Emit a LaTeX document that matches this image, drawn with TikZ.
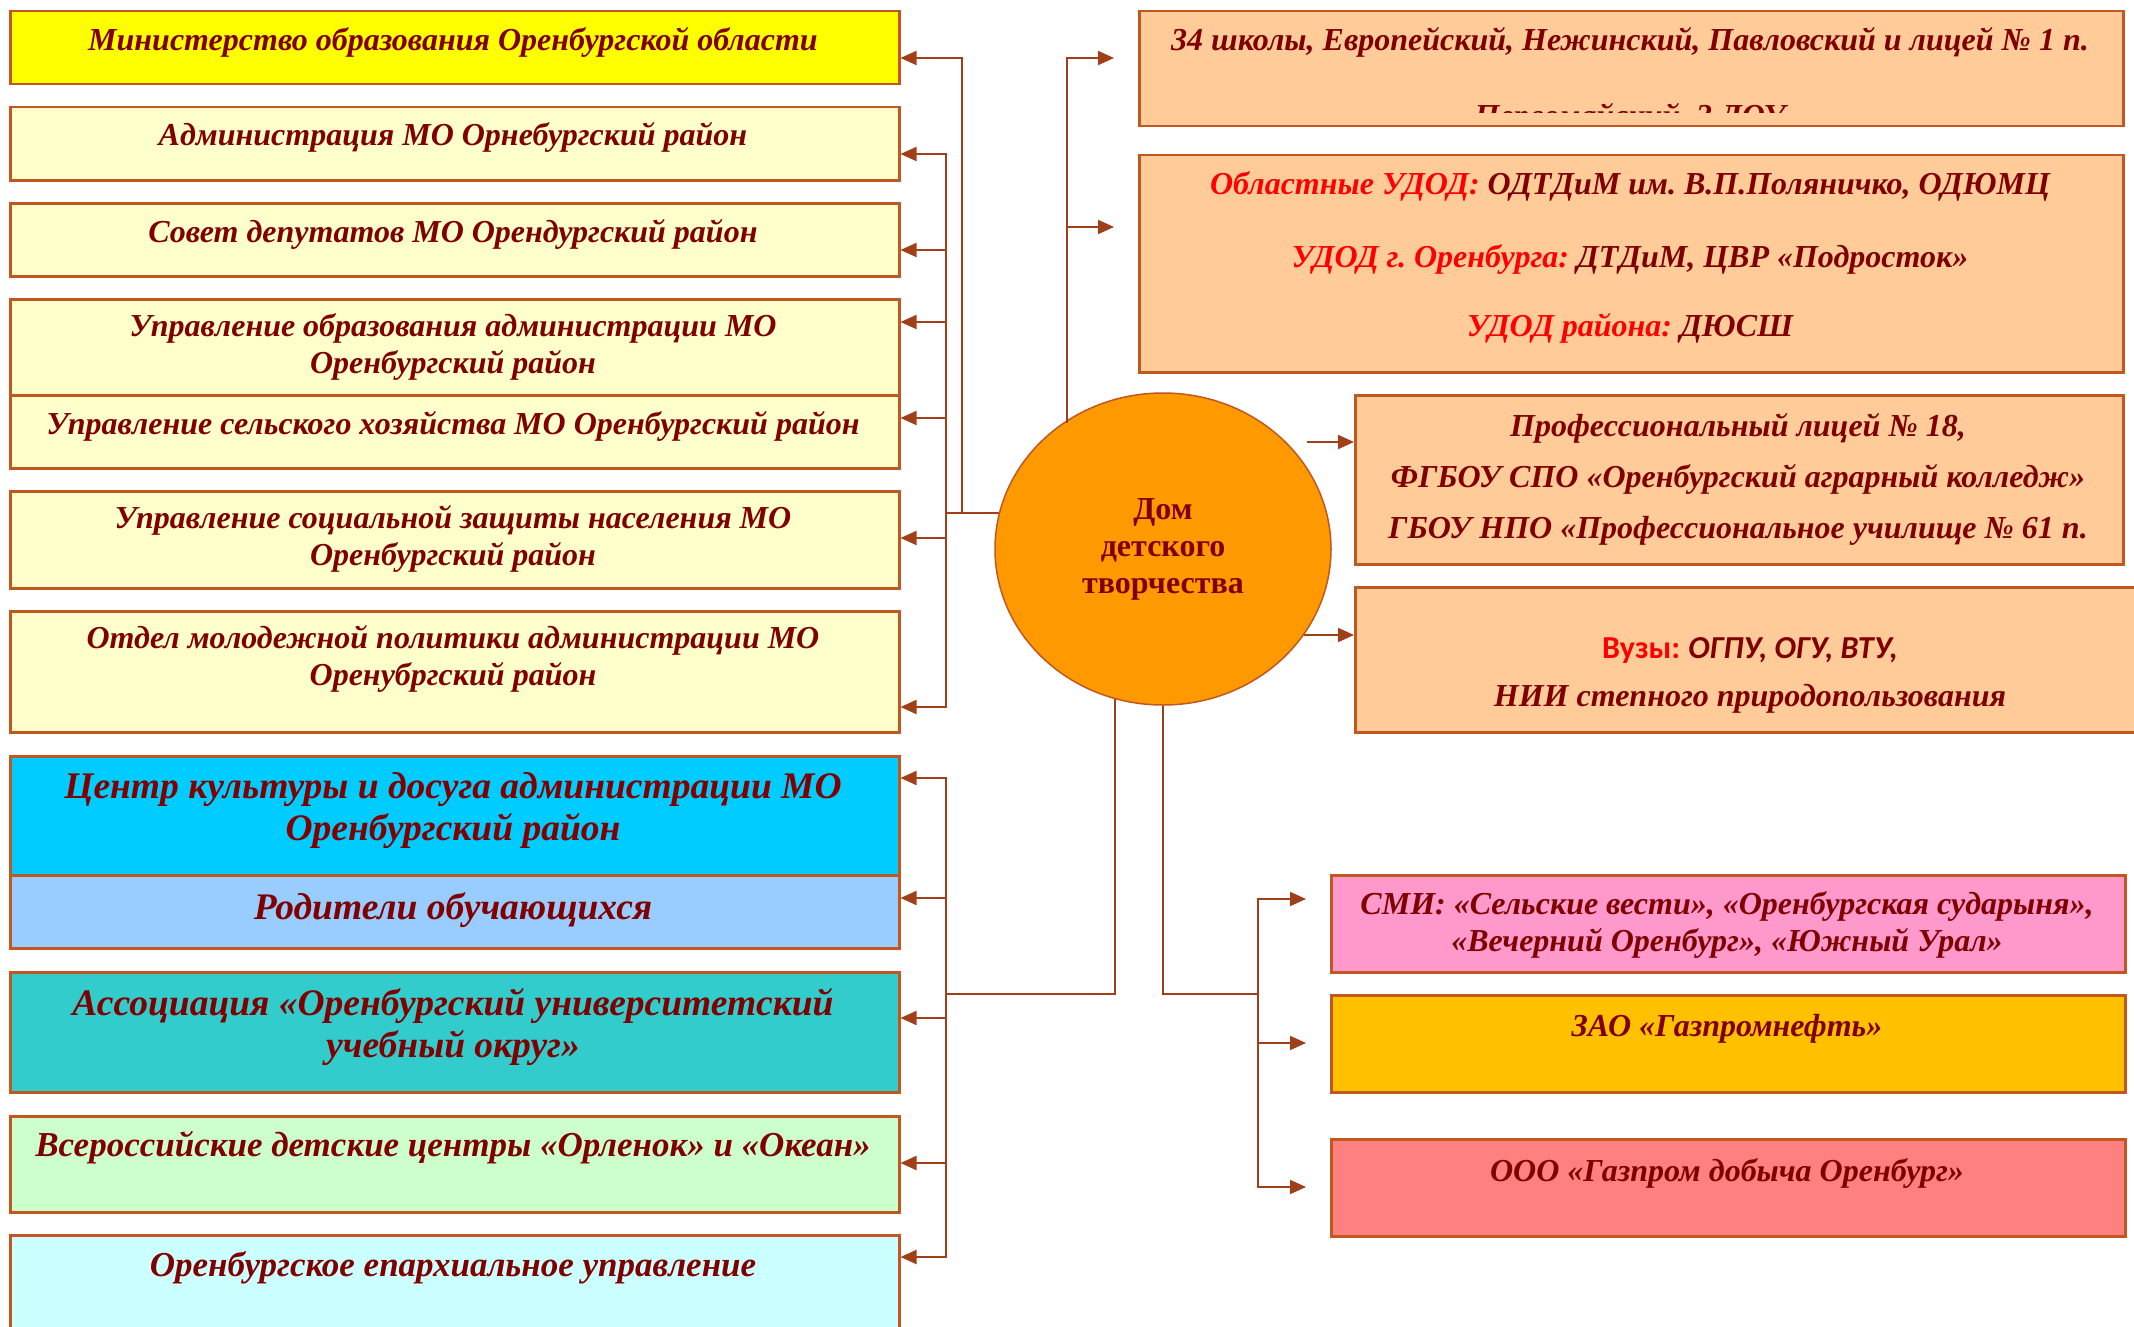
\documentclass[tikz,border=0pt]{standalone}
\usepackage{fontspec}
\setmainfont{Liberation Serif}
\newfontfamily\calfont{Carlito}
\usetikzlibrary{shapes.geometric,arrows.meta,backgrounds}
\frenchspacing
\definecolor{tc}{RGB}{128,0,0}
\definecolor{redt}{RGB}{255,0,0}
\definecolor{bordc}{RGB}{192,88,32}
\definecolor{linec}{RGB}{160,64,24}
\definecolor{cyellow}{RGB}{255,255,0}
\definecolor{clight}{RGB}{255,255,204}
\definecolor{ccyan}{RGB}{0,204,255}
\definecolor{cblue}{RGB}{153,204,255}
\definecolor{cteal}{RGB}{51,204,204}
\definecolor{cgreen}{RGB}{204,255,204}
\definecolor{clcyan}{RGB}{204,255,255}
\definecolor{cpeach}{RGB}{255,204,153}
\definecolor{cpink}{RGB}{255,153,204}
\definecolor{cgold}{RGB}{255,192,0}
\definecolor{csalmon}{RGB}{255,128,128}
\definecolor{corange}{RGB}{255,153,0}
\begin{document}
\begin{tikzpicture}[x=1pt,y=-1pt,
  box/.style={draw=bordc, line width=2.5pt, rectangle, inner sep=0pt, anchor=north west},
  txt/.style={font=\fontsize{32}{37}\selectfont\bfseries\itshape, text=tc, align=center, inner sep=0pt},
  midtxt/.style={font=\fontsize{35}{40}\selectfont\bfseries\itshape, text=tc, align=center, inner sep=0pt},
  bigtxt/.style={font=\fontsize{37.5}{42}\selectfont\bfseries\itshape, text=tc, align=center, inner sep=0pt},
  conn/.style={draw=linec, line width=2pt},
  arr/.style={conn, -{Triangle[length=16pt,width=14pt]}}]
\useasboundingbox (0,0) rectangle (2134,1327);
\clip (0,0) rectangle (2134,1327);

% left boxes
\node[box, fill=cyellow, minimum width=889pt, minimum height=73pt] (b1) at (9,10) {};
\node[box, fill=clight, minimum width=889pt, minimum height=73pt] (b2) at (9,106) {};
\node[box, fill=clight, minimum width=889pt, minimum height=73pt] (b3) at (9,202) {};
\node[box, fill=clight, minimum width=889pt, minimum height=96pt] (b4) at (9,298) {};
\node[box, fill=clight, minimum width=889pt, minimum height=73pt] (b5) at (9,394) {};
\node[box, fill=clight, minimum width=889pt, minimum height=97pt] (b6) at (9,490) {};
\node[box, fill=clight, minimum width=889pt, minimum height=121pt] (b7) at (9,610) {};
\node[box, fill=ccyan, minimum width=889pt, minimum height=119pt] (b8) at (9,755) {};
\node[box, fill=cblue, minimum width=889pt, minimum height=73pt] (b9) at (9,874) {};
\node[box, fill=cteal, minimum width=889pt, minimum height=120pt] (b10) at (9,971) {};
\node[box, fill=cgreen, minimum width=889pt, minimum height=96pt] (b11) at (9,1115) {};
\node[box, fill=clcyan, minimum width=889pt, minimum height=120pt] (b12) at (9,1234) {};

\node[txt] (t1) at (453,42) {Министерство образования Оренбургской области};
\node[txt] (t2) at (453,137) {Администрация МО Орнебургский район};
\node[txt] (t3) at (453,234) {Совет депутатов МО Орендургский район};
\node[txt] (t4) at (453,347) {Управление образования администрации МО\\Оренбургский район};
\node[txt] (t5) at (453,426) {Управление сельского хозяйства МО Оренбургский район};
\node[txt] (t6) at (453,539) {Управление социальной защиты населения МО\\Оренбургский район};
\node[txt] (t7) at (453,659) {Отдел молодежной политики администрации МО\\Оренубргский район};
\node[bigtxt] (t8) at (453,811) {Центр культуры и досуга администрации МО\\Оренбургский район};
\node[bigtxt] (t9) at (453,910) {Родители обучающихся};
\node[bigtxt] (t10) at (453,1027) {Ассоциация «Оренбургский университетский\\учебный округ»};
\node[midtxt] (t11) at (453,1148) {Всероссийские детские центры «Орленок» и «Океан»};
\node[midtxt] (t12) at (453,1268) {Оренбургское епархиальное управление};

% right boxes
\node[box, fill=cpeach, minimum width=984pt, minimum height=115pt] (bA) at (1138,10) {};
\node[box, fill=cpeach, minimum width=984pt, minimum height=217pt] (bB) at (1138,154) {};
\node[box, fill=cpeach, minimum width=768pt, minimum height=169pt] (bC) at (1354,394) {};
\node[box, fill=cpeach, minimum width=800pt, minimum height=145pt] (bD) at (1354,586) {};
\node[box, fill=cpink, minimum width=794pt, minimum height=97pt] (bE) at (1330,874) {};
\node[box, fill=cgold, minimum width=794pt, minimum height=97pt] (bF) at (1330,994) {};
\node[box, fill=csalmon, minimum width=794pt, minimum height=97pt] (bG) at (1330,1138) {};

\node[txt] (tA) at (1630,42) {34 школы, Европейский, Нежинский, Павловский и лицей № 1 п.};
\begin{scope}
\clip (1140,60) rectangle (2120,113);
\node[txt] (tA2) at (1630,118) {Первомайский, 3 ДОУ};
\end{scope}
\node[txt] (tB1) at (1630,186) {\textcolor{redt}{Областные УДОД:} ОДТДиМ им. В.П.Поляничко, ОДЮМЦ};
\node[txt] (tB2) at (1630,259) {\textcolor{redt}{УДОД г. Оренбурга:} ДТДиМ, ЦВР «Подросток»};
\node[txt] (tB3) at (1630,328) {\textcolor{redt}{УДОД района:} ДЮСШ};
\node[txt] (tC1) at (1738,428) {Профессиональный лицей № 18,};
\node[txt] (tC2) at (1738,479) {ФГБОУ СПО «Оренбургский аграрный колледж»};
\node[txt] (tC3) at (1738,531) {ГБОУ НПО «Профессиональное училище № 61 п.};
\node[txt] (tD1) at (1750,651) {{\calfont\upshape\textcolor{redt}{Вузы:}} {\calfont ОГПУ, ОГУ, ВТУ,}};
\node[txt] (tD2) at (1750,699) {НИИ степного природопользования};
\node[txt] (tE) at (1727,925) {СМИ: «Сельские вести», «Оренбургская сударыня»,\\«Вечерний Оренбург», «Южный Урал»};
\node[txt] (tF) at (1727,1029) {ЗАО «Газпромнефть»};
\node[txt] (tG) at (1727,1173) {ООО «Газпром добыча Оренбург»};

% center ellipse
\node[ellipse, draw=bordc, line width=1.5pt, fill=corange, minimum width=336pt, minimum height=312pt, inner sep=0pt,
  font=\fontsize{32}{37}\selectfont\bfseries, text=tc, align=center] (dtt) at (1163,549) {Дом\\детского\\творчества};

% hubs
\coordinate (hL) at (946,513);
\coordinate (hL2) at (962,513);
\coordinate (hB) at (946,994);
\coordinate (hB2) at (1115,994);
\coordinate (hR) at (1258,994);
\coordinate (hR2) at (1163,994);
\coordinate (hT) at (1067,423);
\coordinate (sC) at (1307,442);
\coordinate (sD) at (1290,635);

\begin{pgfonlayer}{background}
\fill[white] (0,0) rectangle (2134,1327);
\draw[conn] (hL) -- (hL -| dtt.center);
\draw[conn] (hB2 |- dtt.center) -- (hB2) -- (hB);
\draw[conn] (hT |- dtt.center) -- (hT);
\draw[conn] (dtt.center) -- (hR2) -- (hR);
\draw[arr] (sD) -- (bD.west |- sD);
\end{pgfonlayer}

% left top group
\draw[arr] (hL2) |- (b1.east |- 0,58);
\draw[arr] (hL) |- (b2.east |- 0,154);
\draw[arr] (hL) |- (b3.east |- 0,250);
\draw[arr] (hL) |- (b4.east |- 0,322);
\draw[arr] (hL) |- (b5.east |- 0,418);
\draw[arr] (hL) |- (b6.east |- 0,538);
\draw[arr] (hL) |- (b7.east |- 0,707);

% left bottom group
\draw[arr] (hB) |- (b8.east |- 0,778);
\draw[arr] (hB) |- (b9.east |- 0,898);
\draw[arr] (hB) |- (b10.east |- 0,1018);
\draw[arr] (hB) |- (b11.east |- 0,1163);
\draw[arr] (hB) |- (b12.east |- 0,1257);

% top right group
\draw[arr, shorten >=24pt] (hT) |- (bA.west |- 0,58);
\draw[arr, shorten >=24pt] (hT) |- (bB.west |- 0,227);

% right middle
\draw[arr] (sC) -- (bC.west |- sC);

% bottom right group
\draw[arr, shorten >=24pt] (hR) |- (bE.west |- 0,899);
\draw[arr, shorten >=24pt] (hR) |- (bF.west |- 0,1043);
\draw[arr, shorten >=24pt] (hR) |- (bG.west |- 0,1187);
\end{tikzpicture}
\end{document}
